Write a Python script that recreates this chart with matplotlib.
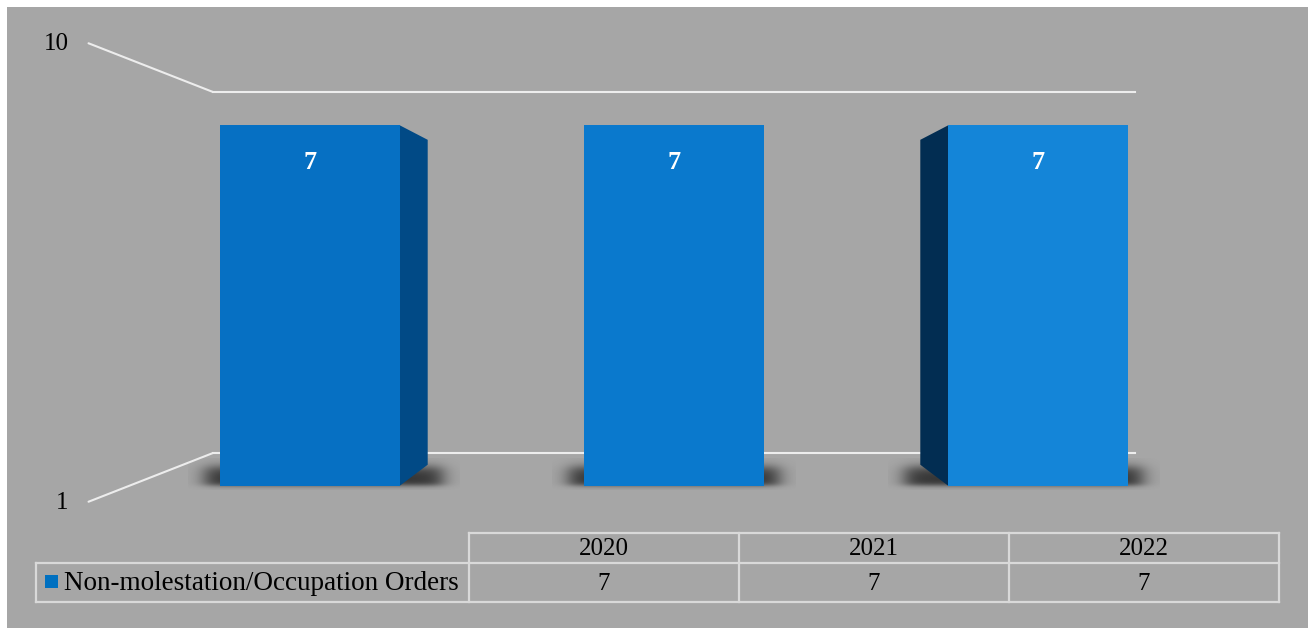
import numpy as np
import matplotlib
matplotlib.use("Agg")
import matplotlib.pyplot as plt
from matplotlib.patches import Rectangle, Polygon

# ---- data ----
categories = ["2020", "2021", "2022"]
values = [7, 7, 7]
series_name = "Non-molestation/Occupation Orders"
y_ticks = [1, 10]

# ---- canvas & styling ----
W, H, DPI = 1313, 628, 100
BG = "#A6A6A6"
GRID = "#EDEDED"
RULE = "#D9D9D9"
FRONT = ["#0670C3", "#0A79CD", "#1485D8"]
SIDE_LIGHT = "#014A86"
SIDE_DARK = "#022D52"
LEGEND_BLUE = "#0070C0"
SERIF = ["Liberation Serif", "DejaVu Serif"]
NUM_SIZE = 18
LABEL_SIZE = 19.5

# back wall box in pixels (left, top, right, bottom; origin top-left)
WALL = (213, 92, 1135, 453)
S_FRONT = 1.183   # bar front faces relative to the wall
S_BACK = 1.065    # bar back faces relative to the wall
S_EDGE = 1.27     # floor/ceiling front edge relative to the wall

fig = plt.figure(figsize=(W / DPI, H / DPI), dpi=DPI, facecolor="white")


def frac(x0, y0, x1, y1):
    return [x0 / W, 1 - y1 / H, (x1 - x0) / W, (y1 - y0) / H]


cx = (WALL[0] + WALL[2]) / 2
cy = (WALL[1] + WALL[3]) / 2


def scale_pt(p, s):
    return (cx + (p[0] - cx) * s, cy + (p[1] - cy) * s)


def scaled_box(box, s):
    x0, y0 = scale_pt((box[0], box[1]), s)
    x1, y1 = scale_pt((box[2], box[3]), s)
    return x0, y0, x1, y1


def to_px(axes, x, y):
    dx, dy = axes.transData.transform((x, y))
    return (dx, H - dy)


def pixel_axes(z):
    a = fig.add_axes([0, 0, 1, 1], zorder=z)
    a.set_xlim(0, W)
    a.set_ylim(H, 0)
    a.axis("off")
    return a


# background layer
ov = pixel_axes(0)
ov.add_patch(Rectangle((7, 7), W - 12, H - 7, facecolor=BG, edgecolor="none"))

# back wall with the value scale
xpos = np.arange(len(categories))
wall = fig.add_axes(frac(*WALL), zorder=1)
wall.set_yscale("log")
wall.set_ylim(y_ticks[0], y_ticks[-1])
wall.set_xlim(-0.5, len(categories) - 0.5)
wall.axis("off")
for t in y_ticks:
    wall.axhline(t, color=GRID, lw=1.5, clip_on=False)
    p = to_px(wall, -0.5, t)
    e = scale_pt(p, S_EDGE)
    ov.plot([e[0], p[0]], [e[1], p[1]], color=GRID, lw=1.5, solid_capstyle="round")
    ov.text(e[0] - 20, e[1] + 1, f"{t:g}", ha="right", va="center",
            fontsize=NUM_SIZE, family=SERIF, color="black")

# layer for shadows and side faces
mid = pixel_axes(2)

# front faces
ax = fig.add_axes(frac(*scaled_box(WALL, S_FRONT)), zorder=3)
ax.set_yscale("log")
ax.set_ylim(y_ticks[0], y_ticks[-1])
ax.set_xlim(-0.5, len(categories) - 0.5)
ax.axis("off")
bars = ax.bar(xpos, [v - y_ticks[0] for v in values], bottom=y_ticks[0],
              width=0.495, color=FRONT, edgecolor="none", clip_on=False)

k = S_BACK / S_FRONT


def sig(z):
    return 1.0 / (1.0 + np.exp(-z))


for b, v in zip(bars, values):
    x0, x1 = b.get_x(), b.get_x() + b.get_width()
    y0, y1 = b.get_y(), b.get_y() + b.get_height()
    ftl, ftr = to_px(ax, x0, y1), to_px(ax, x1, y1)
    fbl, fbr = to_px(ax, x0, y0), to_px(ax, x1, y0)
    btl, btr = scale_pt(ftl, k), scale_pt(ftr, k)
    bbl, bbr = scale_pt(fbl, k), scale_pt(fbr, k)

    # soft floor shadow
    left = min(fbl[0], bbl[0]) - 32
    right = max(fbr[0], bbr[0]) + 32
    top = bbl[1] - 6
    bottom = fbl[1] + 4
    xs = np.arange(left, right, 1.0) + 0.5
    ys = np.arange(top, bottom, 1.0) + 0.5
    X, Y = np.meshgrid(xs, ys)
    alpha = (sig((X - left - 17) / 5.5) * sig((right - 17 - X) / 5.5)
             * sig((Y - top - 9) / 3.0) * sig((bottom - 4 - Y) / 1.5)) * 0.78
    rgba = np.zeros(X.shape + (4,))
    rgba[..., :3] = 0.08
    rgba[..., 3] = alpha
    mid.imshow(rgba, extent=(left, right, bottom, top), origin="upper",
               aspect="auto", interpolation="bilinear", zorder=1)

    # visible side faces (tucked 1px under the front face to avoid seams)
    if bbl[0] < fbl[0] - 0.5:
        a_t, a_b = (ftl[0] + 1, ftl[1]), (fbl[0] + 1, fbl[1])
        mid.add_patch(Polygon([a_t, btl, bbl, a_b], closed=True,
                              facecolor=SIDE_DARK, edgecolor="none", zorder=2))
    if bbr[0] > fbr[0] + 0.5:
        a_t, a_b = (ftr[0] - 1, ftr[1]), (fbr[0] - 1, fbr[1])
        mid.add_patch(Polygon([a_t, btr, bbr, a_b], closed=True,
                              facecolor=SIDE_LIGHT, edgecolor="none", zorder=2))

    ax.annotate(f"{v}", (b.get_x() + b.get_width() / 2, v), xytext=(0, -37),
                textcoords="offset pixels", ha="center", va="center",
                color="white", fontsize=19, fontweight="bold", family=SERIF)

mid.set_xlim(0, W)
mid.set_ylim(H, 0)

# data table below the chart
t_left, t_right, leg_left = 469, 1279, 36
r_top, r_mid, r_bot = 533, 563, 602
col_w = (t_right - t_left) / len(categories)
lk = dict(color=RULE, lw=1.6)
ov.plot([t_left, t_right], [r_top, r_top], **lk)
ov.plot([leg_left, t_right], [r_mid, r_mid], **lk)
ov.plot([leg_left, t_right], [r_bot, r_bot], **lk)
ov.plot([leg_left, leg_left], [r_mid, r_bot], **lk)
for i in range(len(categories) + 1):
    xl = t_left + i * col_w
    ov.plot([xl, xl], [r_top, r_bot], **lk)
for i, (c, v) in enumerate(zip(categories, values)):
    xc = t_left + (i + 0.5) * col_w
    ov.text(xc, (r_top + r_mid) / 2 + 1, c, ha="center", va="center",
            fontsize=NUM_SIZE, family=SERIF, color="black")
    ov.text(xc, (r_mid + r_bot) / 2 + 1, f"{v}", ha="center", va="center",
            fontsize=NUM_SIZE, family=SERIF, color="black")

ov.add_patch(Rectangle((45, 575), 13, 13, facecolor=LEGEND_BLUE, edgecolor="none"))
ov.text(64, (r_mid + r_bot) / 2 + 1, series_name, ha="left", va="center",
        fontsize=LABEL_SIZE, family=SERIF, color="black")

fig.savefig("out.png", dpi=DPI, facecolor="white")
